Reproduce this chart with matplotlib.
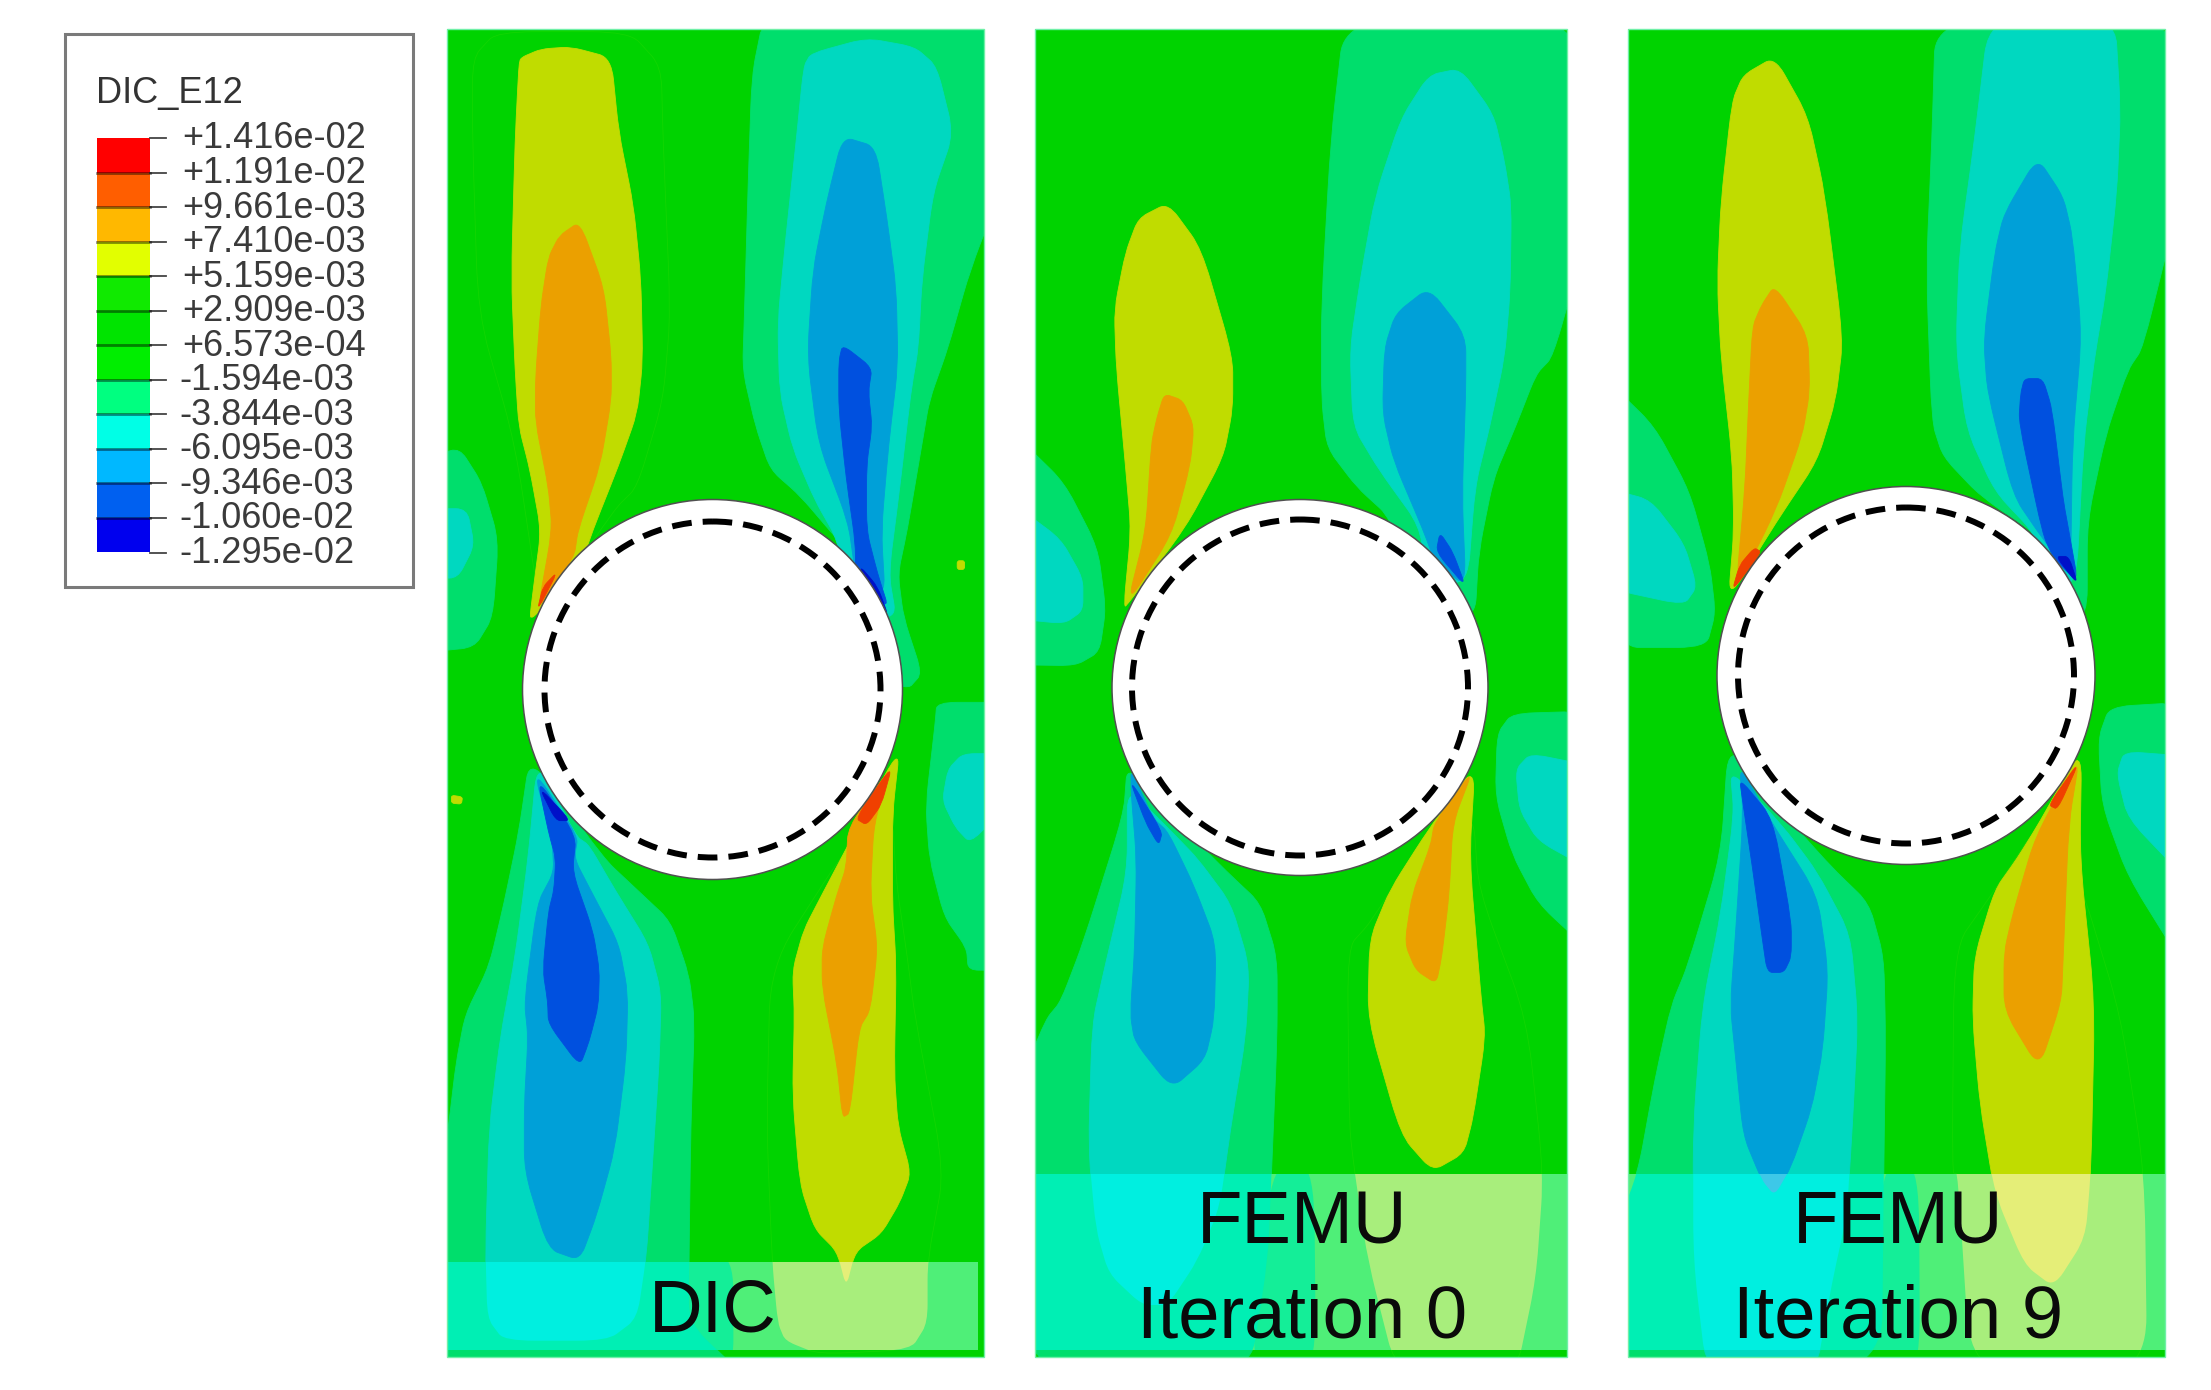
#!/usr/bin/env python3
"""DIC and FEMU shear strain contour maps around a hole, three panels."""

import matplotlib

matplotlib.use("Agg")
import matplotlib.pyplot as plt
from matplotlib.patches import Circle, PathPatch, Rectangle
from matplotlib.path import Path

plt.rcParams["font.family"] = ["Liberation Sans", "DejaVu Sans"]

LEGEND_TITLE = "DIC_E12"
LEGEND_LABELS = [
    "+1.416e-02", "+1.191e-02", "+9.661e-03", "+7.410e-03", "+5.159e-03",
    "+2.909e-03", "+6.573e-04", "-1.594e-03", "-3.844e-03", "-6.095e-03",
    "-9.346e-03", "-1.060e-02", "-1.295e-02",
]
LEGEND_COLORS = [
    "#FF0000", "#FF5E00", "#FFB800", "#E2FF00", "#10EA00", "#00E400",
    "#00EE00", "#00FF80", "#00FFE6", "#00B8FF", "#0060F0", "#0000EE",
]

# contour level fill: (plot colour, colour under the label strip)
LEVELS = {
    "g2": ("#00D300", "#A8EE7C"),
    "g3": ("#00D300", "#14EE98"),
    "lt": ("#00DE6C", "#00EFB4"),
    "t": ("#00D8C0", "#00EFE0"),
    "b": ("#00A0D8", "#3DC8E8"),
    "db": ("#0050DF", "#0050DF"),
    "deep": ("#0010C8", "#0010C8"),
    "y": ("#C0DC00", "#E5EE78"),
    "o": ("#EBA000", "#EBA000"),
    "r": ("#F04000", "#F04000"),
}
GREEN = "#00D300"
GREEN_STRIP = "#4FEF78"

# points past the panel edge get clipped by the frame
DIC_UR_LT = [(902, 15), (1550, 15), (1550, 400), (1460, 600), (1400, 780), (1350, 900), (1330, 1000), (1290, 1200), (1265, 1300), (1280, 1400), (1330, 1530), (1290, 1568), (1100, 1500), (1150, 1260), (1100, 1220), (1000, 1120), (920, 1060), (880, 960), (845, 830), (850, 700), (860, 400), (870, 150)]
DIC_UR_T = [(1030, 100), (1180, 65), (1310, 85), (1370, 130), (1415, 285), (1360, 420), (1330, 620), (1320, 780), (1300, 880), (1270, 1100), (1240, 1300), (1260, 1400), (1150, 1400), (1100, 1220), (1040, 1130), (980, 1010), (945, 880), (940, 720), (960, 540), (990, 300), (1010, 130)]
DIC_UR_B = [(1115, 292), (1205, 315), (1235, 480), (1260, 640), (1265, 820), (1240, 1000), (1220, 1200), (1230, 1350), (1150, 1300), (1130, 1180), (1050, 1000), (1020, 800), (1035, 600), (1070, 450)]
DIC_UR_DB = [(1115, 772), (1195, 825), (1185, 880), (1195, 960), (1180, 1050), (1180, 1200), (1210, 1300), (1240, 1380), (1150, 1320), (1150, 1230), (1125, 1080), (1105, 920), (1105, 810)]
DIC_UR_DEEP = [(1160, 1280), (1210, 1330), (1240, 1400), (1180, 1350)]
DIC_UL_G2 = [(115, 110), (180, 50), (540, 50), (625, 130), (630, 300), (650, 700), (630, 900), (560, 1100), (500, 1150), (300, 1400), (230, 1000), (130, 700), (115, 300)]
DIC_UL_Y = [(245, 110), (300, 90), (380, 85), (490, 110), (510, 280), (550, 450), (570, 620), (575, 810), (560, 930), (510, 1050), (440, 1200), (400, 1300), (280, 1400), (270, 1400), (280, 1330), (300, 1200), (270, 1060), (240, 960), (230, 830), (220, 620), (230, 300), (240, 130)]
DIC_UL_O = [(405, 488), (470, 640), (490, 800), (490, 900), (460, 1050), (400, 1200), (390, 1260), (290, 1390), (330, 1200), (320, 1100), (285, 950), (285, 850), (300, 680), (320, 570), (350, 520)]
DIC_UL_R = [(345, 1295), (290, 1385), (305, 1330)]
DIC_SIDE_LT = [(0, 1030), (80, 1010), (140, 1090), (185, 1220), (170, 1400), (120, 1470), (0, 1480)]
DIC_SIDE_T = [(0, 1150), (100, 1150), (120, 1235), (75, 1310), (0, 1310)]
DIC_DOT_Y = [(1425, 1270), (1445, 1270), (1445, 1290), (1425, 1290)]

DIC_LL_G3 = [(690, 1290), (820, 1290), (820, 1560), (640, 1560)]
DIC_LL_LT = [(270, 170), (470, 400), (560, 470), (650, 540), (700, 660), (715, 760), (705, 1000), (700, 1300), (700, 1440), (850, 1560), (0, 1560), (0, 1300), (50, 1000), (70, 860), (95, 750), (160, 640), (200, 500), (240, 340)]
DIC_LL_T = [(290, 180), (395, 350), (430, 370), (500, 470), (590, 590), (625, 700), (620, 850), (600, 1100), (585, 1290), (560, 1430), (480, 1480), (200, 1480), (155, 1430), (150, 1280), (160, 1000), (190, 800), (230, 620), (265, 400)]
DIC_LL_B = [(280, 200), (400, 350), (390, 400), (440, 480), (510, 590), (535, 700), (530, 850), (500, 1050), (450, 1200), (405, 1300), (320, 1275), (255, 1100), (255, 950), (265, 800), (255, 720), (290, 500), (335, 430), (330, 360)]
DIC_LL_DB = [(290, 220), (395, 350), (385, 430), (440, 560), (458, 650), (455, 730), (430, 810), (405, 865), (320, 770), (318, 720), (305, 650), (320, 520), (335, 470), (340, 400), (320, 340)]
DIC_LL_DEEP = [(295, 240), (380, 315), (340, 315)]
DIC_LR_G2 = [(1130, 370), (920, 640), (910, 1000), (925, 1304), (940, 1440), (960, 1480), (1050, 1510), (1300, 1500), (1345, 1440), (1345, 1300), (1390, 1100), (1310, 750), (1290, 620), (1260, 450), (1250, 300)]
DIC_LR_Y = [(1270, 150), (1250, 300), (1250, 500), (1260, 640), (1255, 880), (1265, 1000), (1300, 1105), (1270, 1170), (1220, 1240), (1150, 1280), (1125, 1360), (1100, 1280), (1040, 1230), (1000, 1130), (980, 930), (985, 750), (980, 650), (1010, 560), (1060, 480), (1130, 370)]
DIC_LR_O = [(1250, 190), (1200, 320), (1190, 480), (1210, 600), (1190, 740), (1160, 780), (1135, 970), (1115, 980), (1100, 860), (1060, 690), (1060, 600), (1100, 480), (1125, 420), (1130, 330)]
DIC_LR_R = [(1250, 190), (1220, 280), (1180, 325), (1150, 310)]
DIC_RSIDE_LT = [(1370, 50), (1550, 50), (1550, 650), (1455, 650), (1450, 600), (1390, 530), (1350, 400), (1340, 280), (1365, 100)]
DIC_RSIDE_T = [(1550, 165), (1440, 165), (1400, 200), (1385, 270), (1420, 330), (1460, 365), (1550, 290)]
DIC_LDOT_Y = [(58, 258), (88, 262), (85, 278), (58, 276)]

IT0_UR_LT = [(878, 15), (1530, 15), (1520, 560), (1440, 800), (1395, 840), (1340, 960), (1280, 1080), (1240, 1250), (1230, 1400), (1100, 1400), (1000, 1170), (910, 1100), (830, 1010), (815, 900), (815, 680), (840, 300)]
IT0_UR_T = [(1105, 150), (1190, 135), (1280, 240), (1310, 350), (1328, 450), (1325, 650), (1310, 800), (1270, 960), (1230, 1100), (1210, 1320), (1100, 1320), (1080, 1190), (970, 1060), (900, 960), (892, 780), (920, 620), (960, 430), (1030, 250)]
IT0_UR_B = [(1105, 640), (1205, 750), (1205, 880), (1195, 1120), (1205, 1330), (1120, 1270), (1090, 1200), (1010, 1040), (980, 930), (985, 780), (1015, 700)]
IT0_UR_DB = [(1135, 1205), (1170, 1250), (1205, 1330), (1125, 1250)]
IT0_UL_Y = [(320, 480), (400, 445), (490, 550), (575, 800), (575, 920), (550, 1030), (450, 1190), (300, 1360), (280, 1380), (300, 1200), (285, 1050), (260, 820), (255, 690), (285, 560)]
IT0_UL_O = [(390, 885), (440, 900), (470, 960), (460, 1050), (410, 1210), (290, 1370), (340, 1200), (355, 1000), (370, 940)]
IT0_SIDE_LT = [(0, 990), (120, 1090), (210, 1240), (232, 1380), (215, 1480), (150, 1512), (0, 1510)]
IT0_SIDE_T = [(0, 1150), (110, 1220), (170, 1310), (170, 1385), (120, 1415), (0, 1405)]

IT0_LL_G3 = [(680, 1090), (795, 1090), (800, 1560), (620, 1560)]
IT0_LL_LT = [(290, 190), (440, 330), (560, 430), (650, 500), (695, 620), (695, 800), (680, 1100), (670, 1300), (620, 1560), (0, 1560), (0, 900), (70, 760), (110, 720), (170, 590), (280, 300)]
IT0_LL_T = [(290, 240), (410, 340), (480, 400), (570, 500), (620, 640), (610, 800), (570, 1000), (540, 1180), (480, 1300), (400, 1400), (330, 1400), (240, 1330), (205, 1230), (185, 1050), (195, 770), (230, 640), (290, 430)]
IT0_LL_B = [(300, 200), (360, 310), (400, 340), (470, 460), (530, 590), (525, 760), (500, 850), (410, 915), (310, 810), (298, 750), (310, 600), (315, 400), (300, 250)]
IT0_LL_DB = [(295, 220), (385, 340), (375, 370), (340, 320)]
IT0_LR_G2 = [(1100, 340), (950, 540), (885, 600), (890, 1000), (905, 1105), (940, 1300), (1020, 1560), (1340, 1560), (1395, 1340), (1415, 1105), (1370, 760), (1240, 470), (1225, 300)]
IT0_LR_Y = [(1230, 190), (1215, 400), (1245, 700), (1258, 800), (1225, 980), (1200, 1060), (1115, 1100), (1030, 1020), (940, 760), (945, 580), (1000, 470), (1100, 340)]
IT0_LR_O = [(1225, 200), (1170, 320), (1160, 480), (1140, 620), (1125, 680), (1070, 650), (1040, 590), (1060, 480), (1110, 370), (1120, 320)]
IT0_RSIDE_LT = [(1530, 70), (1330, 75), (1290, 120), (1285, 260), (1330, 390), (1400, 500), (1530, 600)]
IT0_RSIDE_T = [(1530, 190), (1380, 165), (1340, 200), (1350, 290), (1400, 360), (1530, 420)]

IT9_UR_LT = [(880, 15), (1550, 15), (1530, 470), (1440, 780), (1400, 830), (1340, 980), (1290, 1180), (1290, 1400), (1200, 1400), (1170, 1220), (1000, 1120), (900, 1030), (870, 950), (855, 600), (870, 300)]
IT9_UR_T = [(1025, 15), (1365, 15), (1380, 230), (1370, 420), (1340, 650), (1310, 800), (1280, 1000), (1260, 1330), (1170, 1300), (1150, 1210), (1040, 1110), (965, 970), (935, 780), (945, 550), (985, 300)]
IT9_UR_B = [(1155, 340), (1225, 430), (1250, 520), (1275, 750), (1250, 1000), (1245, 1300), (1170, 1220), (1090, 1120), (1020, 880), (1010, 760), (1040, 560), (1065, 470)]
IT9_UR_DB = [(1120, 850), (1170, 850), (1195, 920), (1225, 1130), (1240, 1200), (1265, 1320), (1200, 1265), (1170, 1210), (1105, 950), (1110, 885)]
IT9_UR_DEEP = [(1205, 1260), (1240, 1260), (1265, 1325)]
IT9_UL_Y = [(360, 150), (445, 108), (535, 245), (580, 420), (630, 760), (610, 900), (560, 1040), (450, 1180), (320, 1360), (335, 1200), (330, 1030), (300, 800), (290, 630), (300, 440), (330, 210)]
IT9_UL_O = [(445, 635), (535, 750), (540, 880), (520, 980), (450, 1150), (340, 1340), (365, 1100), (375, 900), (385, 730), (410, 680)]
IT9_UL_R = [(390, 1240), (410, 1250), (330, 1340), (350, 1280)]
IT9_SIDE_LT = [(0, 860), (120, 960), (215, 1110), (270, 1280), (285, 1390), (260, 1470), (0, 1470)]
IT9_SIDE_T = [(0, 1105), (110, 1130), (200, 1230), (235, 1330), (200, 1372), (0, 1335)]

IT9_LL_G3 = [(735, 1090), (835, 1090), (838, 1560), (700, 1560)]
IT9_LL_LT = [(320, 140), (470, 300), (600, 420), (700, 500), (740, 620), (745, 800), (740, 1100), (735, 1560), (0, 1560), (0, 1260), (75, 1105), (120, 900), (165, 730), (210, 640), (300, 390)]
IT9_LL_T = [(325, 200), (470, 330), (560, 430), (650, 570), (670, 760), (655, 1000), (640, 1200), (600, 1350), (555, 1560), (262, 1560), (225, 1300), (225, 1000), (250, 730), (300, 520), (335, 300)]
IT9_LL_B = [(350, 190), (430, 310), (560, 480), (590, 650), (575, 830), (545, 960), (490, 1090), (445, 1155), (410, 1120), (360, 1020), (340, 850), (325, 730), (340, 560), (360, 300)]
IT9_LL_DB = [(350, 220), (440, 310), (490, 540), (490, 620), (470, 655), (425, 655), (410, 570), (385, 420), (360, 280)]
IT9_LR_G2 = [(1160, 320), (1040, 470), (930, 600), (925, 1105), (940, 1105), (975, 1560), (1452, 1560), (1445, 1105), (1380, 750), (1270, 450)]
IT9_LR_Y = [(1275, 150), (1270, 400), (1310, 720), (1300, 1100), (1285, 1250), (1200, 1360), (1120, 1310), (1040, 1150), (1000, 950), (980, 760), (985, 620), (1040, 470), (1100, 400), (1160, 320)]
IT9_LR_O = [(1270, 170), (1240, 320), (1225, 620), (1220, 720), (1160, 870), (1065, 740), (1065, 610), (1090, 520), (1150, 350)]
IT9_LR_R = [(1270, 180), (1210, 290), (1185, 280)]
IT9_RSIDE_LT = [(1550, 50), (1350, 60), (1320, 130), (1330, 280), (1400, 440), (1550, 640)]
IT9_RSIDE_T = [(1550, 170), (1390, 160), (1370, 210), (1400, 310), (1550, 440)]

# level, half ("u" or "l"), outline, in drawing order
DIC_SHAPES = [
    ("g2", "u", DIC_UL_G2), ("lt", "u", DIC_UR_LT), ("t", "u", DIC_UR_T),
    ("b", "u", DIC_UR_B), ("db", "u", DIC_UR_DB), ("deep", "u", DIC_UR_DEEP),
    ("y", "u", DIC_UL_Y), ("o", "u", DIC_UL_O), ("r", "u", DIC_UL_R),
    ("lt", "u", DIC_SIDE_LT), ("t", "u", DIC_SIDE_T), ("y", "u", DIC_DOT_Y),
    ("g3", "l", DIC_LL_G3), ("lt", "l", DIC_LL_LT), ("t", "l", DIC_LL_T),
    ("b", "l", DIC_LL_B), ("db", "l", DIC_LL_DB), ("deep", "l", DIC_LL_DEEP),
    ("g2", "l", DIC_LR_G2), ("y", "l", DIC_LR_Y), ("o", "l", DIC_LR_O),
    ("r", "l", DIC_LR_R), ("lt", "l", DIC_RSIDE_LT), ("t", "l", DIC_RSIDE_T),
    ("y", "l", DIC_LDOT_Y),
]
IT0_SHAPES = [
    ("lt", "u", IT0_UR_LT), ("t", "u", IT0_UR_T), ("b", "u", IT0_UR_B),
    ("db", "u", IT0_UR_DB), ("y", "u", IT0_UL_Y), ("o", "u", IT0_UL_O),
    ("lt", "u", IT0_SIDE_LT), ("t", "u", IT0_SIDE_T),
    ("g3", "l", IT0_LL_G3), ("lt", "l", IT0_LL_LT), ("t", "l", IT0_LL_T),
    ("b", "l", IT0_LL_B), ("db", "l", IT0_LL_DB), ("g2", "l", IT0_LR_G2),
    ("y", "l", IT0_LR_Y), ("o", "l", IT0_LR_O),
    ("lt", "l", IT0_RSIDE_LT), ("t", "l", IT0_RSIDE_T),
]
IT9_SHAPES = [
    ("lt", "u", IT9_UR_LT), ("t", "u", IT9_UR_T), ("b", "u", IT9_UR_B),
    ("db", "u", IT9_UR_DB), ("deep", "u", IT9_UR_DEEP), ("y", "u", IT9_UL_Y),
    ("o", "u", IT9_UL_O), ("r", "u", IT9_UL_R),
    ("lt", "u", IT9_SIDE_LT), ("t", "u", IT9_SIDE_T),
    ("g3", "l", IT9_LL_G3), ("lt", "l", IT9_LL_LT), ("t", "l", IT9_LL_T),
    ("b", "l", IT9_LL_B), ("db", "l", IT9_LL_DB), ("g2", "l", IT9_LR_G2),
    ("y", "l", IT9_LR_Y), ("o", "l", IT9_LR_O), ("r", "l", IT9_LR_R),
    ("lt", "l", IT9_RSIDE_LT), ("t", "l", IT9_RSIDE_T),
]

PANEL_NAMES = ["DIC", "FEMU\nIteration 0", "FEMU\nIteration 9"]
PANEL_SHAPES = [DIC_SHAPES, IT0_SHAPES, IT9_SHAPES]


def crop_to_px(points, crop_x, half):
    """Crop units to figure pixels; upper crop starts at y=10, lower at y=680."""
    if half == "u":
        return [(crop_x + x / 2.703, 10 + y / 2.306) for x, y in points]
    return [(crop_x + x / 2.703, 680 + y / 2.24) for x, y in points]


def rounded_path(outline, cut=0.3):
    """Closed path through the outline with each corner eased by a quadratic."""
    verts, codes = [], []
    count = len(outline)
    for i, (x, y) in enumerate(outline):
        px, py = outline[i - 1]
        nx, ny = outline[(i + 1) % count]
        start = (x + (px - x) * cut, y + (py - y) * cut)
        end = (x + (nx - x) * cut, y + (ny - y) * cut)
        verts.extend([start, (x, y), end])
        codes.extend([Path.MOVETO if i == 0 else Path.LINETO, Path.CURVE3, Path.CURVE3])
    verts.append(verts[0])
    codes.append(Path.CLOSEPOLY)
    return Path(verts, codes)


def draw_panel(ax, shapes, name, crop_x, frame, strip, hole, text_x):
    x0, x1, y0, y1 = frame
    sx0, sx1, sy0, sy1 = strip
    frame_rect = Rectangle((x0, y0), x1 - x0, y1 - y0, transform=ax.transData)
    strip_rect = Rectangle((sx0, sy0), sx1 - sx0, sy1 - sy0, transform=ax.transData)

    ax.add_patch(Rectangle((x0, y0), x1 - x0, y1 - y0, color=GREEN, lw=0, zorder=1))
    ax.add_patch(
        Rectangle((sx0, sy0), sx1 - sx0, sy1 - sy0, color=GREEN_STRIP, lw=0, zorder=3)
    )
    for order, (level, half, points) in enumerate(shapes):
        outline = rounded_path(crop_to_px(points, crop_x, half))
        plain, light = LEVELS[level]
        edge = plain
        if level == "g2":
            edge = "#12D602"
        elif level == "g3":
            edge = "none"
        shape = PathPatch(
            outline, facecolor=plain, edgecolor=edge, lw=0.6, zorder=2 + order * 0.01
        )
        ax.add_patch(shape)
        shape.set_clip_path(frame_rect)
        over = PathPatch(
            outline, facecolor=light, edgecolor="none", lw=0, zorder=4 + order * 0.01
        )
        ax.add_patch(over)
        over.set_clip_path(strip_rect)
    ax.add_patch(
        Rectangle((x0, y0), x1 - x0, y1 - y0, fill=False, edgecolor="#70F0A8",
                  lw=1.0, zorder=5)
    )

    cx, cy, radius, dash_radius = hole
    ax.add_patch(Circle((cx, cy), radius, facecolor="white", edgecolor="#505050",
                        lw=1.1, zorder=6))
    ax.add_patch(Circle((cx, cy), dash_radius, fill=False, edgecolor="black",
                        lw=4.3, linestyle=(0, (3.3, 1.85)), capstyle="butt", zorder=7))

    rows = name.split("\n")
    row_ys = [1305] if len(rows) == 1 else [1216, 1310]
    for row, row_y in zip(rows, row_ys):
        ax.text(text_x, row_y, row, ha="center", va="center_baseline",
                fontsize=53.5, color="#0A0A0A", zorder=8)


def draw_legend(ax):
    ax.add_patch(Rectangle((65, 34), 348, 553, facecolor="white", edgecolor="#7A7A7A",
                           lw=2.2, zorder=1))
    ax.text(96, 94, LEGEND_TITLE, fontsize=26, ha="left", va="center",
            color="#333333", zorder=2)
    top, bottom = 138.0, 552.5
    step = (bottom - top) / len(LEGEND_COLORS)
    for i, color in enumerate(LEGEND_COLORS):
        ax.add_patch(Rectangle((97, top + i * step), 53, step, color=color, lw=0, zorder=2))
    for i, label in enumerate(LEGEND_LABELS):
        y = top + i * step
        ax.plot([150, 166], [y, y], color="#444444", lw=1.3, zorder=3)
        if 0 < i < len(LEGEND_COLORS):
            ax.plot([97, 150], [y, y], color="black", alpha=0.45, lw=2.0, zorder=3)
        ax.text(182 if label[0] == "+" else 179, y + 1, label, fontsize=26, ha="left",
                va="center", color="#3A3A3A", zorder=3)


def main() -> None:
    fig = plt.figure(figsize=(22.11, 13.9), dpi=100)
    ax = fig.add_axes([0, 0, 1, 1])
    ax.set_xlim(0, 2211)
    ax.set_ylim(1390, 0)
    ax.axis("off")

    crop_xs = [430, 1020, 1610]
    frames = [(447, 984, 29, 1357), (1035, 1567, 29, 1357), (1628, 2165, 29, 1357)]
    strips = [(447, 978, 1262, 1350), (1035, 1567, 1174, 1350), (1628, 2165, 1174, 1350)]
    holes = [(712.5, 689.5, 190, 168), (1300, 687.5, 188, 168), (1906, 675.5, 189, 168)]
    text_xs = [713, 1302, 1898]

    draw_legend(ax)
    for shapes, name, crop_x, frame, strip, hole, text_x in zip(
        PANEL_SHAPES, PANEL_NAMES, crop_xs, frames, strips, holes, text_xs
    ):
        draw_panel(ax, shapes, name, crop_x, frame, strip, hole, text_x)

    fig.savefig("out.png", dpi=100)
    plt.close(fig)


if __name__ == "__main__":
    main()
